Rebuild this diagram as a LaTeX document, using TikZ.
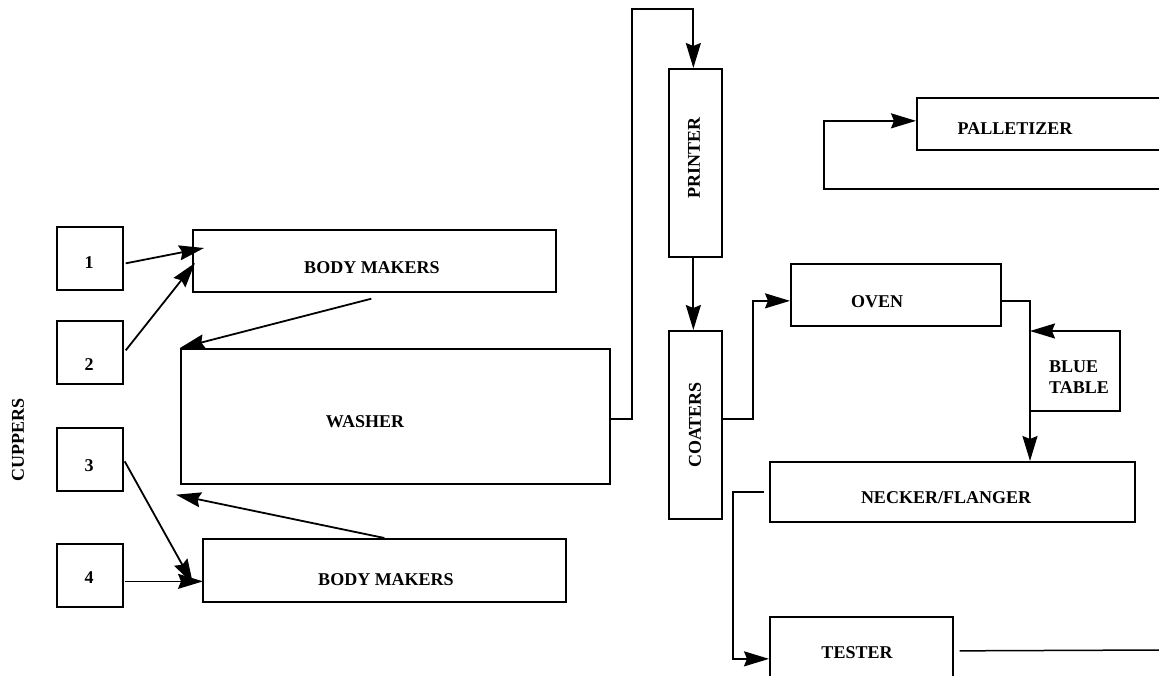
\documentclass[tikz,border=0pt]{standalone}
\usepackage{fontspec}
\setmainfont{Liberation Serif}
\usetikzlibrary{arrows.meta,calc}
\tikzset{
  box/.style={draw, line width=1.7pt, inner sep=0pt, anchor=north west},
  lbl/.style={font=\bfseries\fontsize{18}{21}\selectfont, inner sep=0pt},
  arr/.style={line width=1.8pt, -{Stealth[length=25pt,width=15pt,inset=3pt]}},
  thinarr/.style={line width=1.2pt, -{Stealth[length=25pt,width=15pt,inset=3pt]}},
  ln/.style={line width=1.5pt}
}
\newcommand{\mybox}[5]{\node[box, minimum width=#4pt, minimum height=#5pt] (#1) at (#2,#3) {};}
\begin{document}
\begin{tikzpicture}[x=1pt,y=-1pt]
\useasboundingbox (0,0) rectangle (1159,675);
\clip (0,0) rectangle (1159,675);
% cuppers
\mybox{c1}{56}{226}{66}{63}
\mybox{c2}{56}{320}{66}{63}
\mybox{c3}{56}{427}{66}{63}
\mybox{c4}{56}{543}{66}{63}
\node[lbl] at (89,263) {1};
\node[lbl] at (89,365) {2};
\node[lbl] at (89,466) {3};
\node[lbl] at (89,578) {4};
\node[lbl, rotate=90] (cup) at (18,440) {CUPPERS};
% body makers, washer
\mybox{bm1}{192}{229}{363}{62}
\node[lbl] at (372,268) {BODY MAKERS};
\mybox{washer}{180}{348}{429}{135}
\node[lbl] at (365,422) {WASHER};
\mybox{bm2}{202}{538}{363}{63}
\node[lbl] at (386,580) {BODY MAKERS};
% printer, coaters
\mybox{printer}{668}{68}{53}{188}
\node[lbl, rotate=90] at (694,158) {PRINTER};
\mybox{coaters}{668}{330}{53}{188}
\node[lbl, rotate=90] at (695,425) {COATERS};
% oven, necker, tester, palletizer
\mybox{oven}{790}{263}{210}{62}
\node[lbl] at (877,302) {OVEN};
\mybox{necker}{769}{461}{365}{60}
\node[lbl] at (946,498) {NECKER/FLANGER};
\mybox{tester}{769}{616}{183}{84}
\node[lbl] at (857,653) {TESTER};
\mybox{pal}{916}{97}{270}{52}
\node[lbl] at (1015,129) {PALLETIZER};
% blue table
\node[lbl, anchor=west, align=left] (bluet) at (1049,377) {BLUE\\TABLE};
\coordinate (bt) at (1030,331);
\coordinate (btb) at (1030,411);
\coordinate (btr) at (1120,331);
\draw[arr] (btb) -| (btr) -- (bt);
% connectors
\coordinate (t1) at (204,248);
\coordinate (t2) at (195,263);
\draw[arr] ($(c1.east)+(2,5)$) -- (t1);
\draw[arr] ($(c2.east)+(2,-2)$) -- (t2);
\draw[arr] ($(bm1.south)+(-3,6)$) -- (washer.north west);
\draw[arr] (bm2.north) -- ($(washer.south west)+(-4,10)$);
\coordinate (t3) at (193,584);
\draw[arr] ($(c3.east)+(1,2)$) -- (t3);
\draw[thinarr] ($(c4.east)+(1,6)$) -- ($(bm2.west)+(1,11)$);
\draw[arr] ($(washer.east)+(0,3)$) -| (632,9) -| ($(printer.north)+(-2,0)$);
\draw[arr] ($(printer.south)+(-2,0)$) -- ($(coaters.north)+(-2,0)$);
\draw[arr] ($(coaters.east)+(0,-6)$) -| ($(oven.west)+(-37,6)$) -- ($(oven.west)+(0,6)$);
\draw[arr] ($(oven.east)+(0,6)$) -| (necker.north -| bt);
\draw[arr] ($(necker.west)+(-5,0)$) -| ($(tester.west)+(-36,0)$) -- (tester.west);
\coordinate (tout) at (1159,650);
\draw[ln] ($(tester.east)+(6,-8)$) -- (tout);
\coordinate (pin) at (1159,189);
\draw[arr] (pin) -| ($(pal.west)+(-92,-3)$) -- ($(pal.west)+(0,-3)$);
\end{tikzpicture}
\end{document}
